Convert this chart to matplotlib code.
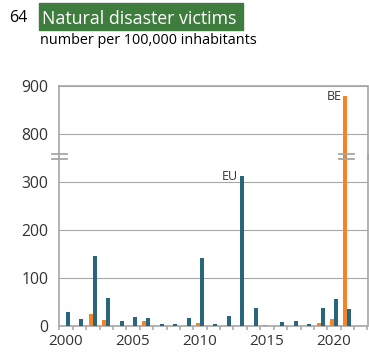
import matplotlib
matplotlib.use("Agg")
import matplotlib.pyplot as plt
from matplotlib.lines import Line2D
from matplotlib.patches import Rectangle
import numpy as np

plt.rcParams['font.family'] = ['Open Sans', 'DejaVu Sans']

years = list(range(2000, 2023))
eu = [28, 14, 145, 58, 10, 19, 17, 4, 4, 17, 141, 4, 20, 313, 38, 0, 8, 9, 3, 37, 56, 35, 0]
be = [0, 0, 24, 12, 0, 0, 9, 0, 0, 0, 6, 0, 0, 0, 0, 2, 0, 0, 0, 5, 13, 879, 0]
xtick_years = [2000, 2005, 2010, 2015, 2020]
low_ticks = [0, 100, 200, 300]
high_ticks = [800, 900]

TEAL = '#28667c'
ORANGE = '#f68427'
GRID = '#a6a6a6'
TXT = '#333333'

W, H = 369, 356
fig = plt.figure(figsize=(W / 100, H / 100), dpi=100)

def fx(px):
    return px / W

def fy(py):
    return 1 - py / H

left, right = 59.3, 367.5
low_bot, low_top = 325.7, 154.5
up_bot, up_top = 159.0, 86.0
ax_lo = fig.add_axes([fx(left), fy(low_bot), fx(right - left), (low_bot - low_top) / H])
ax_hi = fig.add_axes([fx(left), fy(up_bot), fx(right - left), (up_bot - up_top) / H])

x = np.arange(len(years))
bw = 0.3
for ax in (ax_lo, ax_hi):
    ax.bar(x - bw, be, width=bw, align='edge', color=ORANGE, zorder=3)
    ax.bar(x, eu, width=bw, align='edge', color=TEAL, zorder=3)
    ax.set_xlim(-0.5, len(years) - 0.5)
    ax.grid(axis='y', color=GRID, lw=0.8, zorder=0)
    for s in ax.spines.values():
        s.set_color(GRID)
        s.set_linewidth(1.2)
    ax.tick_params(axis='y', length=0, pad=8, labelsize=11.3, labelcolor=TXT)

ax_lo.set_ylim(0, (low_bot - low_top) / 0.478)
ax_lo.set_yticks(low_ticks)
ax_hi.set_ylim(900 - (up_bot - up_top) / 0.483, 900)
ax_hi.set_yticks(high_ticks)

ax_lo.spines['top'].set_visible(False)
ax_hi.spines['bottom'].set_visible(False)
ax_hi.tick_params(axis='x', which='both', bottom=False, labelbottom=False)

ax_lo.set_xticks([y - years[0] for y in xtick_years])
ax_lo.set_xticklabels([str(y) for y in xtick_years])
ax_lo.set_xticks(np.arange(-0.5, len(years)), minor=True)
ax_lo.tick_params(axis='x', which='major', length=0, pad=6, labelsize=11, labelcolor=TXT)
ax_lo.tick_params(axis='x', which='minor', length=3, width=1.1, color=GRID)

# series labels
i_eu = int(np.argmax(eu))
ax_lo.text(i_eu - 0.15, eu[i_eu], 'EU', ha='right', va='center', fontsize=9, color=TXT, zorder=4)
i_be = int(np.argmax(be))
ax_hi.text(i_be - bw - 0.15, be[i_be], 'BE', ha='right', va='center', fontsize=9, color=TXT, zorder=4)

# break marks
for y in (154.3, 159.3):
    fig.add_artist(Line2D([fx(51.7), fx(66.7)], [fy(y), fy(y)], color=GRID, lw=1.3))
    fig.add_artist(Line2D([fx(339), fx(354)], [fy(y), fy(y)], color=GRID, lw=1.3))
fig.add_artist(Line2D([fx(right), fx(right)], [fy(low_top), fy(up_bot)], color=GRID, lw=1.2))

# title
fig.text(fx(9.3), fy(22.3), '64', fontsize=11.5, color='black', va='baseline')
fig.add_artist(Rectangle((fx(39.3), fy(30)), fx(242.7 - 39.3), (30 - 3.3) / H,
                         color='#3f7d3f', transform=fig.transFigure, zorder=1))
fig.text(fx(41.5), fy(24), 'Natural disaster victims', fontsize=12.8, color='white',
         va='baseline', zorder=2)
fig.text(fx(40), fy(44.5), 'number per 100,000 inhabitants', fontsize=10.4, color='black',
         va='baseline')

fig.savefig('out.png', dpi=100)
